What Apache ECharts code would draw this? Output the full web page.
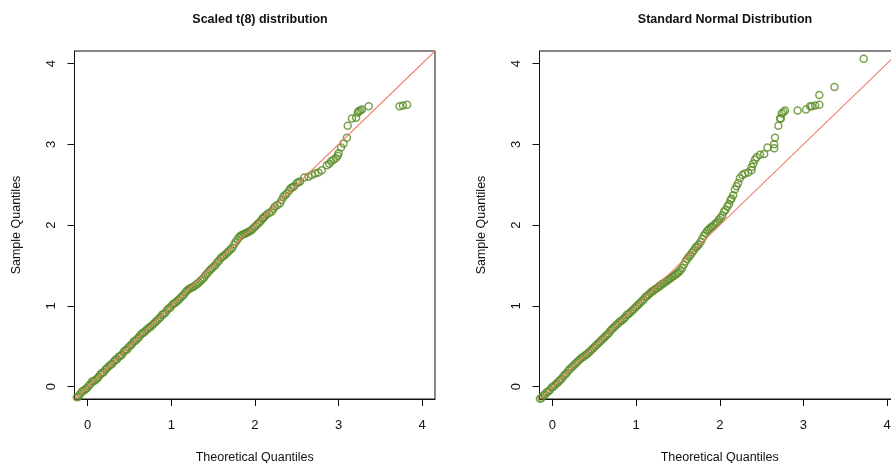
<!DOCTYPE html>
<html>
<head>
<meta charset="utf-8">
<title>QQ plots</title>
<script src="https://cdn.jsdelivr.net/npm/echarts@6/dist/echarts.min.js"></script>
<style>
  html, body { margin: 0; padding: 0; background: #fff; }
  #chart { width: 891px; height: 463px; }
</style>
</head>
<body>
<div id="chart"></div>
<script>
// Panel titles and tick labels
const panelTitles = ['Scaled t(8) distribution', 'Standard Normal Distribution'];
const tickValues = [0, 1, 2, 3, 4];

// [theoretical, sample] quantile pairs
const t8Points = [
  [-0.15,-0.16],[-0.13,-0.13],[-0.11,-0.12],[-0.09,-0.09],[-0.07,-0.06],[-0.05,-0.05],[-0.03,-0.03],[-0.01,-0.02],
  [0.01,0.01],[0.03,0.03],[0.05,0.06],[0.07,0.07],[0.09,0.08],[0.11,0.10],[0.13,0.12],[0.15,0.15],[0.17,0.17],
  [0.19,0.18],[0.21,0.21],[0.23,0.23],[0.25,0.25],[0.27,0.27],[0.29,0.28],[0.31,0.31],[0.33,0.33],[0.35,0.34],
  [0.37,0.37],[0.39,0.38],[0.41,0.40],[0.43,0.43],[0.45,0.45],[0.47,0.46],[0.49,0.49],[0.51,0.51],[0.53,0.53],
  [0.55,0.56],[0.57,0.57],[0.59,0.59],[0.61,0.61],[0.63,0.64],[0.65,0.66],[0.67,0.67],[0.69,0.69],[0.71,0.71],
  [0.73,0.73],[0.75,0.74],[0.77,0.76],[0.79,0.78],[0.81,0.80],[0.83,0.82],[0.85,0.84],[0.87,0.86],[0.89,0.89],
  [0.91,0.90],[0.93,0.92],[0.95,0.95],[0.97,0.97],[0.99,0.98],[1.01,1.01],[1.03,1.03],[1.05,1.04],[1.07,1.06],
  [1.09,1.08],[1.11,1.10],[1.13,1.12],[1.15,1.14],[1.17,1.17],[1.19,1.19],[1.21,1.21],[1.23,1.22],[1.25,1.23],
  [1.27,1.24],[1.29,1.26],[1.31,1.27],[1.33,1.29],[1.35,1.31],[1.37,1.33],[1.39,1.35],[1.41,1.38],[1.43,1.40],
  [1.45,1.43],[1.47,1.45],[1.49,1.47],[1.51,1.49],[1.53,1.51],[1.55,1.54],[1.57,1.56],[1.59,1.59],[1.61,1.61],
  [1.63,1.62],[1.65,1.64],[1.67,1.66],[1.69,1.68],[1.71,1.70],[1.73,1.72],[1.75,1.76],[1.77,1.79],[1.79,1.82],
  [1.81,1.85],[1.83,1.87],[1.85,1.88],[1.87,1.89],[1.89,1.90],[1.91,1.91],[1.93,1.92],[1.95,1.93],[1.97,1.95],
  [1.99,1.97],[2.01,1.99],[2.03,2.01],[2.05,2.03],[2.07,2.05],[2.09,2.08],
  [2.10,2.09],[2.12,2.11],[2.14,2.13],[2.17,2.15],[2.20,2.17],[2.22,2.20],[2.24,2.23],[2.27,2.25],[2.30,2.27],
  [2.32,2.31],[2.34,2.35],[2.36,2.37],[2.38,2.39],[2.41,2.43],[2.43,2.46],[2.45,2.47],[2.47,2.48],[2.50,2.52],
  [2.52,2.53],[2.54,2.54],[2.59,2.59],[2.64,2.60],[2.68,2.62],[2.72,2.64],[2.76,2.65],[2.80,2.68],[2.86,2.74],
  [2.89,2.76],[2.91,2.79],[2.94,2.81],[2.97,2.83],[2.99,2.86],[3.00,2.89],[3.03,2.96],[3.06,3.01],[3.10,3.08],
  [3.11,3.23],[3.16,3.32],[3.21,3.33],[3.23,3.39],[3.24,3.41],[3.26,3.42],[3.28,3.43],[3.36,3.47],
  [3.73,3.47],[3.77,3.48],[3.82,3.49]
];

// [theoretical, sample] quantile pairs
const normalPoints = [
  [-0.15,-0.15],[-0.13,-0.14],[-0.11,-0.11],[-0.09,-0.10],[-0.07,-0.07],[-0.05,-0.06],[-0.03,-0.04],[-0.01,-0.01],
  [0.01,0.00],[0.03,0.02],[0.05,0.04],[0.07,0.06],[0.09,0.08],[0.11,0.10],[0.13,0.13],[0.15,0.15],[0.17,0.17],
  [0.19,0.20],[0.21,0.22],[0.23,0.24],[0.25,0.26],[0.27,0.28],[0.29,0.30],[0.31,0.32],[0.33,0.34],[0.35,0.36],
  [0.37,0.37],[0.39,0.39],[0.41,0.40],[0.43,0.42],[0.45,0.44],[0.47,0.46],[0.49,0.48],[0.51,0.50],[0.53,0.52],
  [0.55,0.54],[0.57,0.56],[0.59,0.58],[0.61,0.60],[0.63,0.62],[0.65,0.64],[0.67,0.66],[0.69,0.69],[0.71,0.71],
  [0.73,0.73],[0.75,0.75],[0.77,0.77],[0.79,0.79],[0.81,0.81],[0.83,0.82],[0.85,0.84],[0.87,0.86],[0.89,0.89],
  [0.91,0.90],[0.93,0.92],[0.95,0.94],[0.97,0.96],[0.99,0.98],[1.01,1.00],[1.03,1.02],[1.05,1.04],[1.07,1.06],
  [1.09,1.08],[1.11,1.11],[1.13,1.12],[1.15,1.14],[1.17,1.16],[1.19,1.18],[1.21,1.19],[1.23,1.21],[1.25,1.22],
  [1.27,1.24],[1.29,1.25],[1.31,1.27],[1.33,1.28],[1.35,1.30],[1.37,1.31],[1.39,1.33],[1.41,1.34],[1.43,1.36],
  [1.45,1.37],[1.47,1.39],[1.49,1.40],[1.51,1.42],[1.53,1.44],[1.55,1.47],[1.57,1.51],[1.59,1.55],[1.61,1.58],
  [1.63,1.61],[1.65,1.63],[1.67,1.66],[1.69,1.69],[1.71,1.72],[1.73,1.74],[1.75,1.76],[1.77,1.79],[1.79,1.83],
  [1.81,1.87],[1.83,1.90],[1.85,1.93],[1.87,1.95],[1.89,1.97],[1.91,1.98],[1.93,2.00],[1.95,2.02],[1.97,2.04],
  [1.99,2.07],[2.01,2.09],[2.03,2.12],[2.05,2.17],[2.07,2.19],[2.09,2.23],[2.11,2.26],[2.13,2.31],[2.14,2.33],
  [2.16,2.37],[2.18,2.44],[2.20,2.48],[2.22,2.52],[2.24,2.58],[2.27,2.62],[2.30,2.64],[2.34,2.65],[2.38,2.68],
  [2.38,2.72],[2.40,2.76],[2.42,2.81],[2.44,2.84],[2.48,2.87],[2.53,2.88],[2.57,2.96],[2.65,2.95],[2.65,3.00],
  [2.66,3.08],[2.70,3.23],[2.72,3.32],[2.73,3.32],[2.74,3.38],[2.76,3.40],[2.78,3.42],[2.93,3.42],[3.03,3.43],
  [3.08,3.47],[3.10,3.47],[3.14,3.48],[3.19,3.49],[3.19,3.61],[3.37,3.71],[3.72,4.06]
];

// reference line y = x, given by two far-apart points and clipped by the grid
const refLine = [[-1, -1], [5, 5]];

const pointColor = '#5a8c24';
const lineColor = '#f07e6c';
const axisColor = '#111';
const font = 'Liberation Sans, Arial, Helvetica, sans-serif';

const chart = echarts.init(document.getElementById('chart'), null, { renderer: 'canvas' });

function makeXAxis(gridIndex, min, max) {
    return {
        type: 'value', gridIndex, min, max,
        name: 'Theoretical Quantiles', nameLocation: 'middle', nameGap: 52,
        nameTextStyle: { fontFamily: font, fontSize: 12.5, color: '#111' },
        splitLine: { show: false },
        axisLine: { show: true, onZero: false, lineStyle: { color: axisColor, width: 1 } },
        axisTick: { show: true, length: 7, inside: false, customValues: tickValues, lineStyle: { color: axisColor, width: 1 } },
        axisLabel: { show: true, customValues: tickValues, margin: 20, fontFamily: font, fontSize: 13, color: '#111' }
    };
}

function makeYAxis(gridIndex, min, max) {
    return {
        type: 'value', gridIndex, min, max,
        name: 'Sample Quantiles', nameLocation: 'middle', nameGap: 51, nameRotate: 90,
        nameTextStyle: { fontFamily: font, fontSize: 12.5, color: '#111' },
        splitLine: { show: false },
        axisLine: { show: true, onZero: false, lineStyle: { color: axisColor, width: 1 } },
        axisTick: { show: true, length: 7, inside: false, customValues: tickValues, lineStyle: { color: axisColor, width: 1 } },
        axisLabel: { show: true, customValues: tickValues, rotate: 90, margin: 17, fontFamily: font, fontSize: 13, color: '#111' }
    };
}

function pointSeries(idx, data) {
    return {
        type: 'scatter', xAxisIndex: idx, yAxisIndex: idx, data,
        symbol: 'circle', symbolSize: 7, silent: true, z: 2,
        itemStyle: { color: 'rgba(0,0,0,0)', borderColor: pointColor, borderWidth: 1.5 }
    };
}

function lineSeries(idx) {
    return {
        type: 'line', xAxisIndex: idx, yAxisIndex: idx, data: refLine,
        showSymbol: false, silent: true, clip: true, z: 3,
        itemStyle: { color: lineColor },
        lineStyle: { color: lineColor, width: 1.1 }
    };
}

const gridBase = { top: 51, width: 360.5, height: 348, show: true, borderColor: axisColor, borderWidth: 1,
    containLabel: false, outerBoundsMode: 'none' };

const option = {
    animation: false,
    backgroundColor: '#fff',
    title: [
        { text: panelTitles[0], left: 255, top: 8, textAlign: 'center',
          textStyle: { fontFamily: font, fontSize: 12.5, fontWeight: 'bold', color: '#111' } },
        { text: panelTitles[1], left: 720, top: 8, textAlign: 'center',
          textStyle: { fontFamily: font, fontSize: 12.5, fontWeight: 'bold', color: '#111' } }
    ],
    grid: [
        Object.assign({ left: 74.5 }, gridBase),
        Object.assign({ left: 539.5 }, gridBase)
    ],
    xAxis: [makeXAxis(0, -0.158, 4.154), makeXAxis(1, -0.155, 4.154)],
    yAxis: [makeYAxis(0, -0.152, 4.155), makeYAxis(1, -0.152, 4.155)],
    series: [
        pointSeries(0, t8Points), lineSeries(0),
        pointSeries(1, normalPoints), lineSeries(1)
    ]
};

chart.setOption(option);
</script>
</body>
</html>
